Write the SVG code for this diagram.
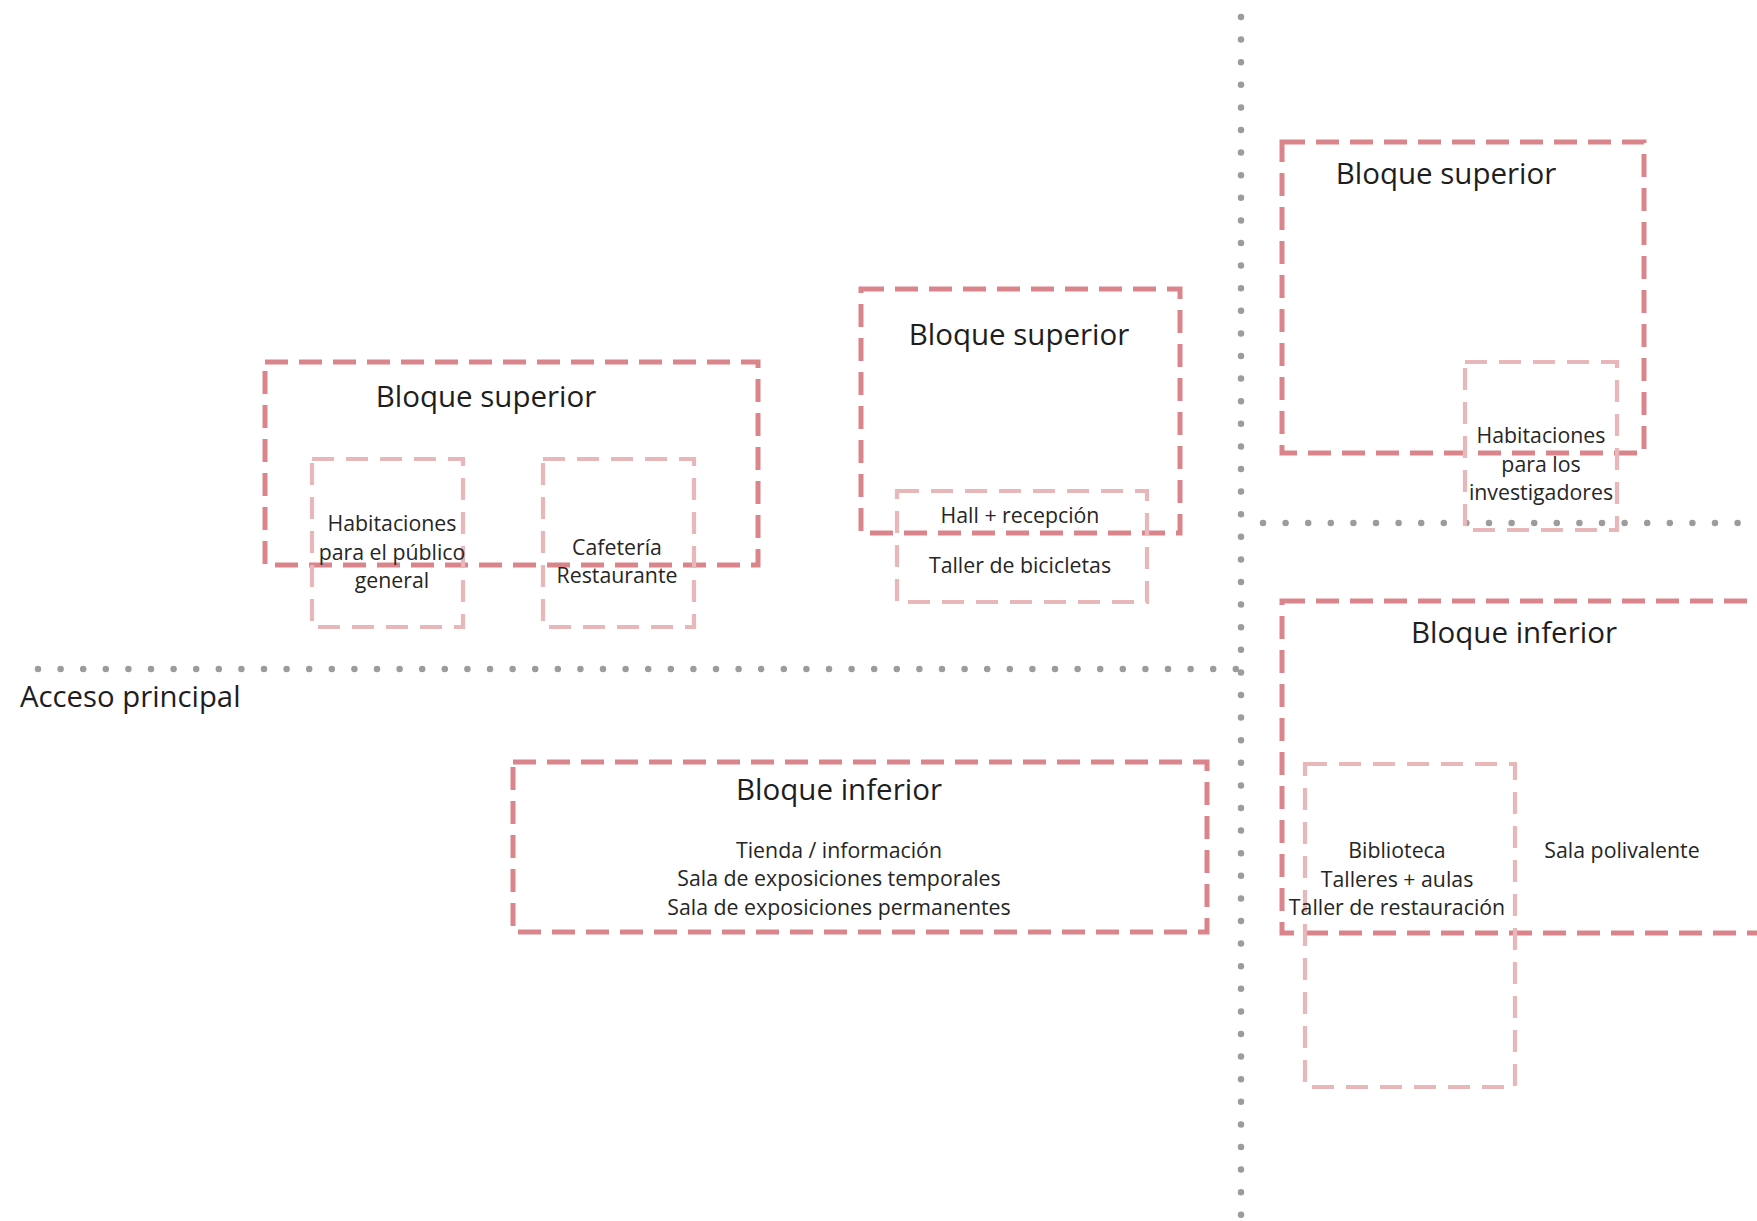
<svg xmlns="http://www.w3.org/2000/svg" width="1757" height="1221" viewBox="0 0 1757 1221">
  <style>
    .block { fill: none; stroke: #d9858b; stroke-width: 5; stroke-dasharray: 23 11; }
    .room { fill: none; stroke: #e8b7ba; stroke-width: 4.2; stroke-dasharray: 22 12; }
    .axis { fill: none; stroke: #9c9c9c; stroke-width: 6.5; stroke-linecap: round; stroke-dasharray: 0 22.6; }
    .title { font-family: "Open Sans", "Liberation Sans", sans-serif; font-size: 29.5px; fill: #1e1e1e; text-anchor: middle; }
    .label { font-family: "Open Sans", "Liberation Sans", sans-serif; font-size: 21.3px; fill: #262626; text-anchor: middle; }
  </style>
  <rect width="1757" height="1221" fill="#ffffff"/>

  <!-- dotted circulation axes -->
  <g id="axes">
    <line class="axis" x1="1241" y1="17" x2="1241" y2="1215"/>
    <line class="axis" x1="38" y1="669" x2="1241" y2="669"/>
    <line class="axis" x1="1263" y1="523" x2="1757" y2="523"/>
  </g>

  <g id="acceso">
    <text x="20" y="707" font-family="Open Sans, Liberation Sans, sans-serif" font-size="29.3" fill="#1e1e1e">Acceso principal</text>
  </g>

  <!-- west upper block -->
  <g id="bloque-superior-oeste">
    <rect class="block" x="265" y="362" width="493" height="203"/>
    <text class="title" x="486" y="407">Bloque superior</text>
  </g>
  <g id="habitaciones-publico">
    <rect class="room" x="312" y="459" width="151" height="168"/>
    <text class="label" x="392" y="531">Habitaciones</text>
    <text class="label" x="392" y="560">para el público</text>
    <text class="label" x="392" y="588">general</text>
  </g>
  <g id="cafeteria">
    <rect class="room" x="543" y="459" width="151" height="168"/>
    <text class="label" x="617" y="555">Cafetería</text>
    <text class="label" x="617" y="583">Restaurante</text>
  </g>

  <!-- central upper block -->
  <g id="bloque-superior-centro">
    <rect class="block" x="861" y="289" width="319" height="244"/>
    <text class="title" x="1019" y="345">Bloque superior</text>
  </g>
  <g id="hall">
    <rect class="room" x="897" y="491" width="250" height="111"/>
    <text class="label" x="1020" y="523">Hall + recepción</text>
    <text class="label" x="1020" y="573">Taller de bicicletas</text>
  </g>

  <!-- east upper block -->
  <g id="bloque-superior-este">
    <rect class="block" x="1282" y="142" width="362" height="311"/>
    <text class="title" x="1446" y="184">Bloque superior</text>
  </g>
  <g id="habitaciones-investigadores">
    <rect class="room" x="1465" y="362" width="152" height="168"/>
    <text class="label" x="1541" y="443">Habitaciones</text>
    <text class="label" x="1541" y="472">para los</text>
    <text class="label" x="1541" y="500">investigadores</text>
  </g>

  <!-- central lower block -->
  <g id="bloque-inferior-centro">
    <rect class="block" x="513" y="762" width="694" height="170"/>
    <text class="title" x="839" y="800">Bloque inferior</text>
    <text class="label" x="839" y="858">Tienda / información</text>
    <text class="label" x="839" y="886">Sala de exposiciones temporales</text>
    <text class="label" x="839" y="915">Sala de exposiciones permanentes</text>
  </g>

  <!-- east lower block -->
  <g id="bloque-inferior-este">
    <rect class="block" x="1282" y="601" width="520" height="332"/>
    <text class="title" x="1514" y="643">Bloque inferior</text>
    <text class="label" x="1622" y="858">Sala polivalente</text>
  </g>
  <g id="biblioteca">
    <rect class="room" x="1305" y="764" width="210" height="323"/>
    <text class="label" x="1397" y="858">Biblioteca</text>
    <text class="label" x="1397" y="887">Talleres + aulas</text>
    <text class="label" x="1397" y="915">Taller de restauración</text>
  </g>
</svg>
